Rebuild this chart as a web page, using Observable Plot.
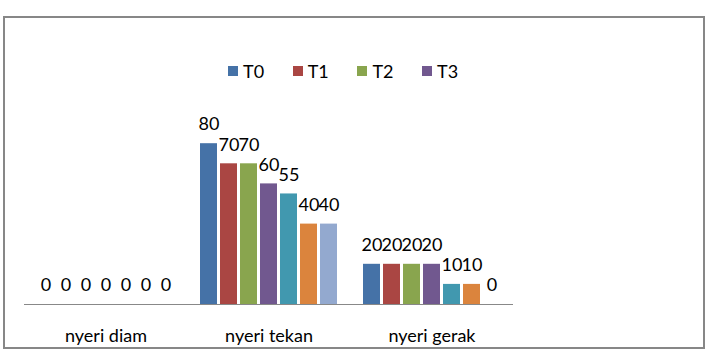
<!DOCTYPE html>
<html>
<head>
<meta charset="utf-8">
<script src="https://cdn.jsdelivr.net/npm/d3@7"></script>
<script src="https://cdn.jsdelivr.net/npm/@observablehq/plot@0.6"></script>
<style>
  body { margin: 0; background: #fff; font-family: Lato, "Open Sans", sans-serif; }
  #wrap { position: relative; width: 710px; height: 356px; overflow: hidden; }
  #frame { position: absolute; left: 3px; top: 16px; width: 698px; height: 329px; border: 2px solid #878787; }
  #legend { position: absolute; top: 60px; left: 228px; display: flex; font-size: 18px; color: #000; }
  #legend .item { display: flex; align-items: center; width: 64.7px; }
  #legend .sw { width: 10px; height: 10px; margin-right: 5px; }
  #chart { position: absolute; left: 0; top: 0; }
</style>
</head>
<body>
<div id="wrap">
  <div id="frame"></div>
  <div id="chart"></div>
  <div id="legend"></div>
</div>
<script>
const categories = ["nyeri diam", "nyeri tekan", "nyeri gerak"];
const series = ["T0", "T1", "T2", "T3", "T4", "T5", "T6"];
const colors = ["#4572A7", "#AA4643", "#89A54E", "#71588F", "#4198AF", "#DB843D", "#93A9CF"];
const nyeriDiam = [0, 0, 0, 0, 0, 0, 0];
const nyeriTekan = [80, 70, 70, 60, 55, 40, 40];
const nyeriGerak = [20, 20, 20, 20, 10, 10, 0];
const legendItems = ["T0", "T1", "T2", "T3"];

const valuesByCat = [nyeriDiam, nyeriTekan, nyeriGerak];
const data = [];
categories.forEach((c, i) => {
  series.forEach((s, j) => data.push({cat: c, series: s, value: valuesByCat[i][j]}));
});

const chart = Plot.plot({
  width: 710,
  height: 356,
  marginLeft: 23,
  marginRight: 196,
  marginTop: 103,
  marginBottom: 52,
  style: {fontFamily: "Lato, 'Open Sans', sans-serif", fontSize: "18px", background: "transparent", color: "#000"},
  fx: {domain: categories, padding: 0, label: null},
  x: {domain: series, paddingInner: 0.17, paddingOuter: 0.58, axis: null},
  y: {domain: [0, 100], axis: null},
  color: {domain: series, range: colors},
  marks: [
    Plot.barY(data, {fx: "cat", x: "series", y: "value", fill: "series"}),
    Plot.ruleY([0], {stroke: "#888", strokeWidth: 1}),
    Plot.text(data, {fx: "cat", x: "series", y: "value", text: d => String(d.value), dy: -19, fontSize: 18, fill: "#000"}),
    Plot.axisFx({anchor: "bottom", tickSize: 0, tickPadding: 25, fontSize: 18, label: null, fill: "#000"})
  ]
});
document.getElementById("chart").appendChild(chart);

const legend = document.getElementById("legend");
legendItems.forEach(name => {
  const item = document.createElement("div");
  item.className = "item";
  const sw = document.createElement("span");
  sw.className = "sw";
  sw.style.background = colors[series.indexOf(name)];
  const lab = document.createElement("span");
  lab.textContent = name;
  item.appendChild(sw);
  item.appendChild(lab);
  legend.appendChild(item);
});
</script>
</body>
</html>
